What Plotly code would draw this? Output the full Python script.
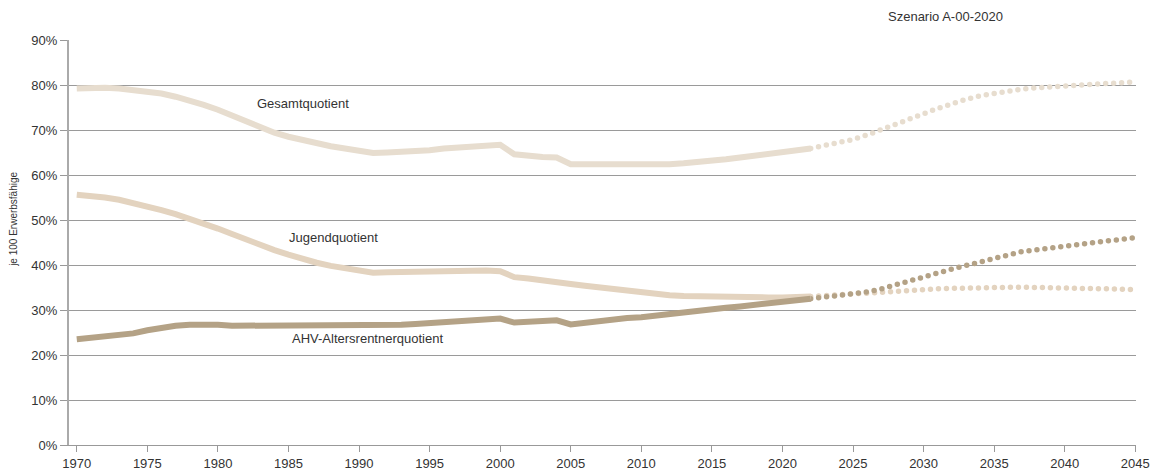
import plotly.graph_objects as go

years_hist = list(range(1970, 2023))
years_proj = list(range(2022, 2046))

gesamt_hist = [79.2, 79.4, 79.4, 79.2, 78.9, 78.6, 78.1, 77.4, 76.6, 75.6,
               74.5, 73.2, 71.8, 70.5, 69.4, 68.5, 67.7, 67.0, 66.4, 65.9,
               65.4, 64.9, 65.0, 65.1, 65.3, 65.5, 65.9, 66.1, 66.3, 66.5,
               66.7, 64.6, 64.2, 64.0, 63.9, 62.4, 62.4, 62.4, 62.3, 62.2,
               62.2, 62.3, 62.4, 62.6, 62.8, 63.1, 63.5, 63.9, 64.3, 64.6,
               65.0, 65.5, 65.9]
jugend_hist = [55.6, 55.4, 55.0, 54.5, 53.8, 53.0, 52.2, 51.3, 50.3, 49.2,
               48.1, 46.9, 45.6, 44.4, 43.3, 42.3, 41.3, 40.5, 39.8, 39.3,
               38.9, 38.3, 38.4, 38.5, 38.6, 38.7, 38.8, 38.8, 38.8, 38.8,
               38.6, 37.3, 37.0, 36.7, 36.3, 35.8, 35.4, 35.0, 34.6, 34.2,
               33.9, 33.6, 33.3, 33.1, 33.0, 32.9, 32.9, 32.8, 32.8, 32.8,
               32.8, 32.9, 33.0]
ahv_hist = [23.5, 23.8, 24.1, 24.4, 24.8, 25.5, 26.1, 26.5, 26.7, 26.8,
            26.7, 26.5, 26.5, 26.5, 26.5, 26.6, 26.7, 26.8, 26.8, 26.8,
            26.7, 26.5, 26.6, 26.7, 26.9, 27.1, 27.3, 27.5, 27.7, 27.9,
            28.1, 27.2, 27.3, 27.5, 27.7, 26.8, 27.2, 27.6, 27.9, 28.2,
            28.4, 28.8, 29.2, 29.5, 29.9, 30.2, 30.5, 30.8, 31.2, 31.6,
            31.9, 32.2, 32.5]

gesamt_proj = [65.9, 66.5, 67.1, 67.9, 68.9, 70.0, 71.2, 72.4, 73.6, 74.8,
               75.9, 76.8, 77.6, 78.2, 78.7, 79.1, 79.4, 79.6, 79.8, 80.0,
               80.2, 80.4, 80.6, 80.7]
jugend_proj = [33.0, 33.2, 33.4, 33.6, 33.9, 34.2, 34.4, 34.5, 34.6, 34.7,
               34.8, 34.9, 35.0, 35.0, 35.1, 35.1, 35.0, 35.0, 35.0, 34.9,
               34.8, 34.7, 34.6, 34.5]
ahv_proj = [32.5, 32.9, 33.2, 33.5, 34.0, 34.7, 35.5, 36.4, 37.3, 38.2,
            39.1, 39.9, 40.8, 41.5, 42.5, 43.0, 43.4, 43.8, 44.2, 44.6,
            45.0, 45.4, 45.8, 46.1]

x_ticks = list(range(1970, 2050, 5))
y_ticks = list(range(0, 100, 10))
y_ticktext = [f"{v}%" for v in y_ticks]

labels = ["Gesamtquotient", "Jugendquotient", "AHV-Altersrentnerquotient"]
label_pos = [(1986.0, 75.8), (1988.2, 46.1), (1990.6, 23.7)]
scenario = "Szenario A-00-2020"
y_title = "je 100 Erwerbsfähige"

c_gesamt = "#e7ddcf"
c_jugend = "#e3d3bf"
c_ahv = "#b4a286"

FONT = "Liberation Sans, Arial, sans-serif"
TXT = "#333333"

fig = go.Figure()
series = [
    (gesamt_hist, gesamt_proj, c_gesamt),
    (jugend_hist, jugend_proj, c_jugend),
    (ahv_hist, ahv_proj, c_ahv),
]
for hist, proj, col in series:
    fig.add_trace(go.Scatter(x=years_proj, y=proj, mode="lines",
                             line=dict(color=col, width=5.5, dash="0px,8px"),
                             hoverinfo="skip", showlegend=False))
for hist, proj, col in series:
    fig.add_trace(go.Scatter(x=years_hist, y=hist, mode="lines",
                             line=dict(color=col, width=6),
                             hoverinfo="skip", showlegend=False))

for txt, (lx, ly) in zip(labels, label_pos):
    fig.add_annotation(x=lx, y=ly, xref="x", yref="y", text=txt, showarrow=False,
                       xanchor="center", yanchor="middle",
                       font=dict(family=FONT, size=13, color=TXT))

fig.add_annotation(x=0.821, y=1.059, xref="paper", yref="paper", text=scenario,
                   xanchor="center", yanchor="middle",
                   showarrow=False, font=dict(family=FONT, size=13, color=TXT))
fig.add_annotation(x=-0.0515, y=0.556, xref="paper", yref="paper", text=y_title,
                   xanchor="center", yanchor="middle",
                   textangle=-90, showarrow=False,
                   font=dict(family=FONT, size=10, color=TXT))

fig.update_layout(
    width=1159, height=470,
    margin=dict(l=69, r=23, t=40, b=25),
    paper_bgcolor="white", plot_bgcolor="white",
    font=dict(family=FONT, size=13, color=TXT),
    hovermode=False,
)
fig.update_xaxes(
    range=[1969.45, 2045.05], tickmode="array", tickvals=x_ticks,
    ticks="outside", ticklen=6, tickcolor="#999999", tickwidth=1,
    showgrid=False, zeroline=False, automargin=False,
    showline=True, linecolor="#999999", linewidth=1,
    tickfont=dict(family=FONT, size=13, color=TXT),
)
fig.update_yaxes(
    range=[0, 90], tickmode="array", tickvals=y_ticks, ticktext=y_ticktext,
    ticks="outside", ticklen=7, tickcolor="#999999",
    showgrid=True, gridcolor="#9a9a9a", gridwidth=1, zeroline=False,
    automargin=False,
    showline=True, linecolor="#aaaaaa", linewidth=2,
    tickfont=dict(family=FONT, size=13, color=TXT),
)

post = """
document.body.style.margin = '0';
document.body.style.overflow = 'hidden';
var gd = document.getElementById('{plot_id}');
function roundDots(){
  gd.querySelectorAll('.scatterlayer path.js-line').forEach(function(p){
    var d = (p.style.strokeDasharray || '').replace(/\\s/g,'');
    if (d.indexOf('0px,') === 0 || d.indexOf('0,') === 0) { p.style.strokeLinecap = 'round'; }
  });
}
roundDots();
gd.on('plotly_afterplot', roundDots);
"""

fig.write_html("out.html", post_script=post, config={"displayModeBar": False})
